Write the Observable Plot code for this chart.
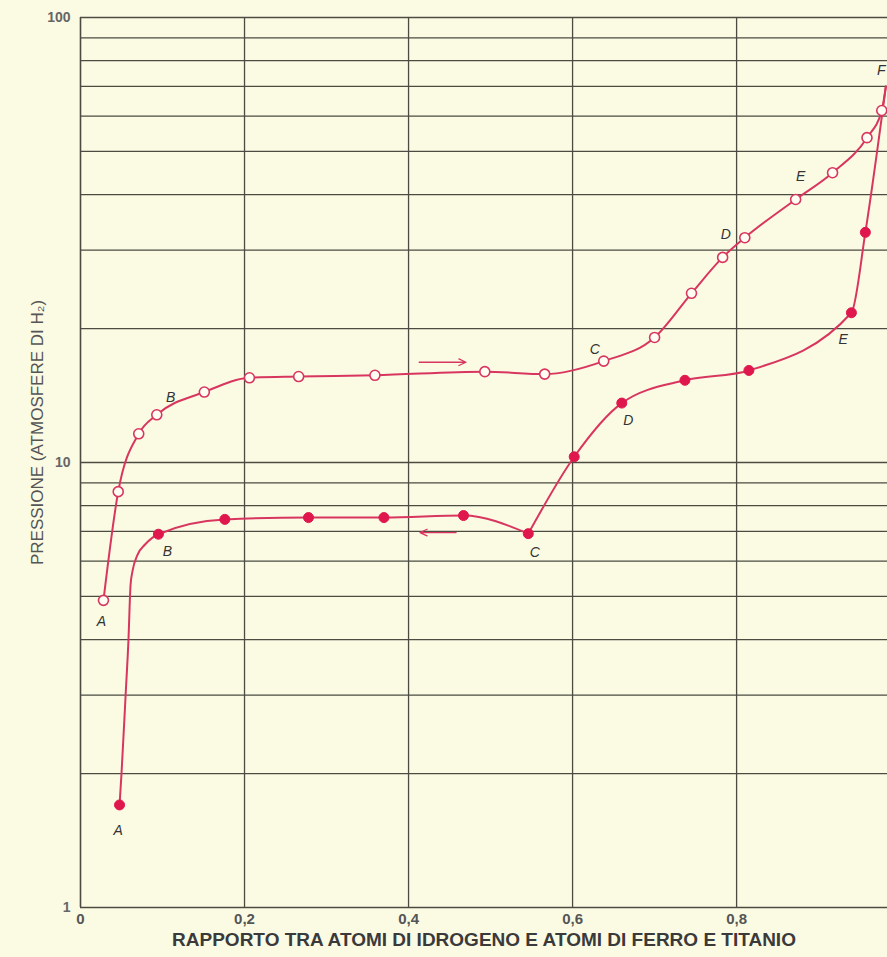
<!DOCTYPE html>
<html><head><meta charset="utf-8">
<script src="https://cdn.jsdelivr.net/npm/d3@7"></script>
<script src="https://cdn.jsdelivr.net/npm/@observablehq/plot@0.6"></script>
<style>
html,body{margin:0;padding:0;background:#fbfbe4;}
#chart svg{display:block;}
</style></head><body><div id="chart"></div>
<script>
// ---- axis ticks & grid ----
const xTicks = [0, 0.2, 0.4, 0.6, 0.8];
const yTicks = [1, 10, 100];
const yGrid = [2, 3, 4, 5, 6, 7, 8, 9, 10, 20, 30, 40, 50, 60, 70, 80, 90, 100];
const xGrid = [0.2, 0.4, 0.6, 0.8];

// ---- absorption curve (open circles) ----
const absX = [0.028, 0.046, 0.071, 0.093, 0.151, 0.206, 0.266, 0.359, 0.493, 0.566, 0.638, 0.700, 0.745, 0.783, 0.810, 0.872, 0.917, 0.959, 0.977];
const absY = [4.9, 8.6, 11.6, 12.8, 14.4, 15.5, 15.6, 15.7, 16.0, 15.8, 16.9, 19.1, 24.0, 28.9, 32.0, 39.0, 44.8, 53.7, 61.8];
const endX = 0.982, endY = 70;  // point F, where both curves meet

// ---- desorption curve (filled dots) ----
const desX = [0.0476, 0.095, 0.176, 0.278, 0.370, 0.467, 0.546, 0.602, 0.660, 0.737, 0.815, 0.940, 0.957];
const desY = [1.70, 6.9, 7.45, 7.52, 7.52, 7.6, 6.92, 10.3, 13.6, 15.3, 16.1, 21.7, 32.9];
// unmarked points along the steep A–B knee of the desorption curve
const kneeX = [0.050, 0.055, 0.0585, 0.061, 0.0634, 0.0695, 0.079];
const kneeY = [2.0, 3.0, 4.0, 5.3, 5.7, 6.2, 6.55];

// ---- letter labels ----
const upLab = ["A", "B", "C", "D", "E", "F"];
const upLabX = [0.0256, 0.110, 0.627, 0.787, 0.878, 0.9765];
const upLabY = [4.39, 14.0, 17.9, 32.5, 43.9, 76];
const loLab = ["A", "B", "C", "D", "E"];
const loLabX = [0.046, 0.106, 0.554, 0.668, 0.930];
const loLabY = [1.49, 6.31, 6.28, 12.4, 18.9];

// ---- direction arrows ----
const arrX1 = [0.413, 0.458];
const arrX2 = [0.470, 0.414];
const arrY = [16.8, 6.96];

const xTitle = "RAPPORTO TRA ATOMI DI IDROGENO E ATOMI DI FERRO E TITANIO";
const yTitle = "PRESSIONE (ATMOSFERE DI H₂)";

// ---- build tables ----
const upper = absX.map((x, i) => ({x, y: absY[i]}));
const upperLine = [...upper, {x: endX, y: endY}];
const lower = desX.map((x, i) => ({x, y: desY[i]}));
const iC = 6;
const knee = kneeX.map((x, i) => ({x, y: kneeY[i]}));
const lowerSeg1 = [lower[0], ...knee, ...lower.slice(1, iC + 1)];
const lowerSeg2 = [...lower.slice(iC), {x: endX, y: endY}];
const upLabels = upLab.map((t, i) => ({t, x: upLabX[i], y: upLabY[i]}));
const loLabels = loLab.map((t, i) => ({t, x: loLabX[i], y: loLabY[i]}));
const arrows = arrX1.map((x1, i) => ({x1, x2: arrX2[i], y: arrY[i]}));

const grid = "#4b4b42";
const red = "#d8365f";
const dotRed = "#e0174c";
const bg = "#fbfbe4";

const plot = Plot.plot({
  width: 887, height: 957,
  marginLeft: 80, marginRight: 0, marginTop: 17, marginBottom: 50,
  style: {background: bg, fontFamily: "'Liberation Sans Narrow', 'Arial Narrow', 'Liberation Sans', sans-serif", overflow: "visible"},
  x: {domain: [0, 0.984]},
  y: {type: "log", domain: [1, 100]},
  marks: [
    Plot.ruleY(yGrid, {stroke: grid, strokeWidth: 1.3}),
    Plot.ruleX(xGrid, {stroke: grid, strokeWidth: 1.3}),
    Plot.ruleX([0], {stroke: grid, strokeWidth: 1.6}),
    Plot.ruleY([1], {stroke: grid, strokeWidth: 1.6}),
    Plot.axisX(xTicks, {tickSize: 0, tickPadding: 6, label: null, fontSize: 15, fontWeight: "bold", fill: "#555",
      tickFormat: d => d === 0 ? "0" : d.toFixed(1).replace(".", ",")}),
    Plot.axisY(yTicks, {tickSize: 0, tickPadding: 10, label: null, fontSize: 14, fontWeight: "bold", fill: "#666",
      tickFormat: d => String(d)}),
    Plot.line(upperLine, {x: "x", y: "y", curve: "monotone-x", stroke: red, strokeWidth: 2}),
    Plot.line(lowerSeg1, {x: "x", y: "y", curve: "monotone-x", stroke: red, strokeWidth: 2}),
    Plot.line(lowerSeg2, {x: "x", y: "y", curve: "monotone-x", stroke: red, strokeWidth: 2}),
    Plot.dot(upper, {x: "x", y: "y", r: 5, fill: "#fffff4", stroke: red, strokeWidth: 1.6}),
    Plot.dot(lower, {x: "x", y: "y", r: 5, fill: dotRed, stroke: dotRed, strokeWidth: 1}),
    Plot.arrow(arrows, {x1: "x1", x2: "x2", y1: "y", y2: "y", stroke: red, strokeWidth: 1.3, headLength: 9, headAngle: 50}),
    Plot.text(upLabels, {x: "x", y: "y", text: "t", fontSize: 14, fontStyle: "italic", fill: "#333", fontFamily: "'Liberation Sans', Arial, sans-serif"}),
    Plot.text(loLabels, {x: "x", y: "y", text: "t", fontSize: 14, fontStyle: "italic", fill: "#333", fontFamily: "'Liberation Sans', Arial, sans-serif"}),
    Plot.text([xTitle], {frameAnchor: "bottom", dy: 38, fontSize: 19, fontWeight: "bold", fill: "#3a3a3a"}),
    Plot.text([yTitle], {frameAnchor: "left", rotate: -90, textAnchor: "middle", dx: -43, dy: -30, fontSize: 17, fill: "#555",
      fontFamily: "'Liberation Sans', Arial, sans-serif"})
  ]
});
document.getElementById("chart").appendChild(plot);
</script>
</body></html>
